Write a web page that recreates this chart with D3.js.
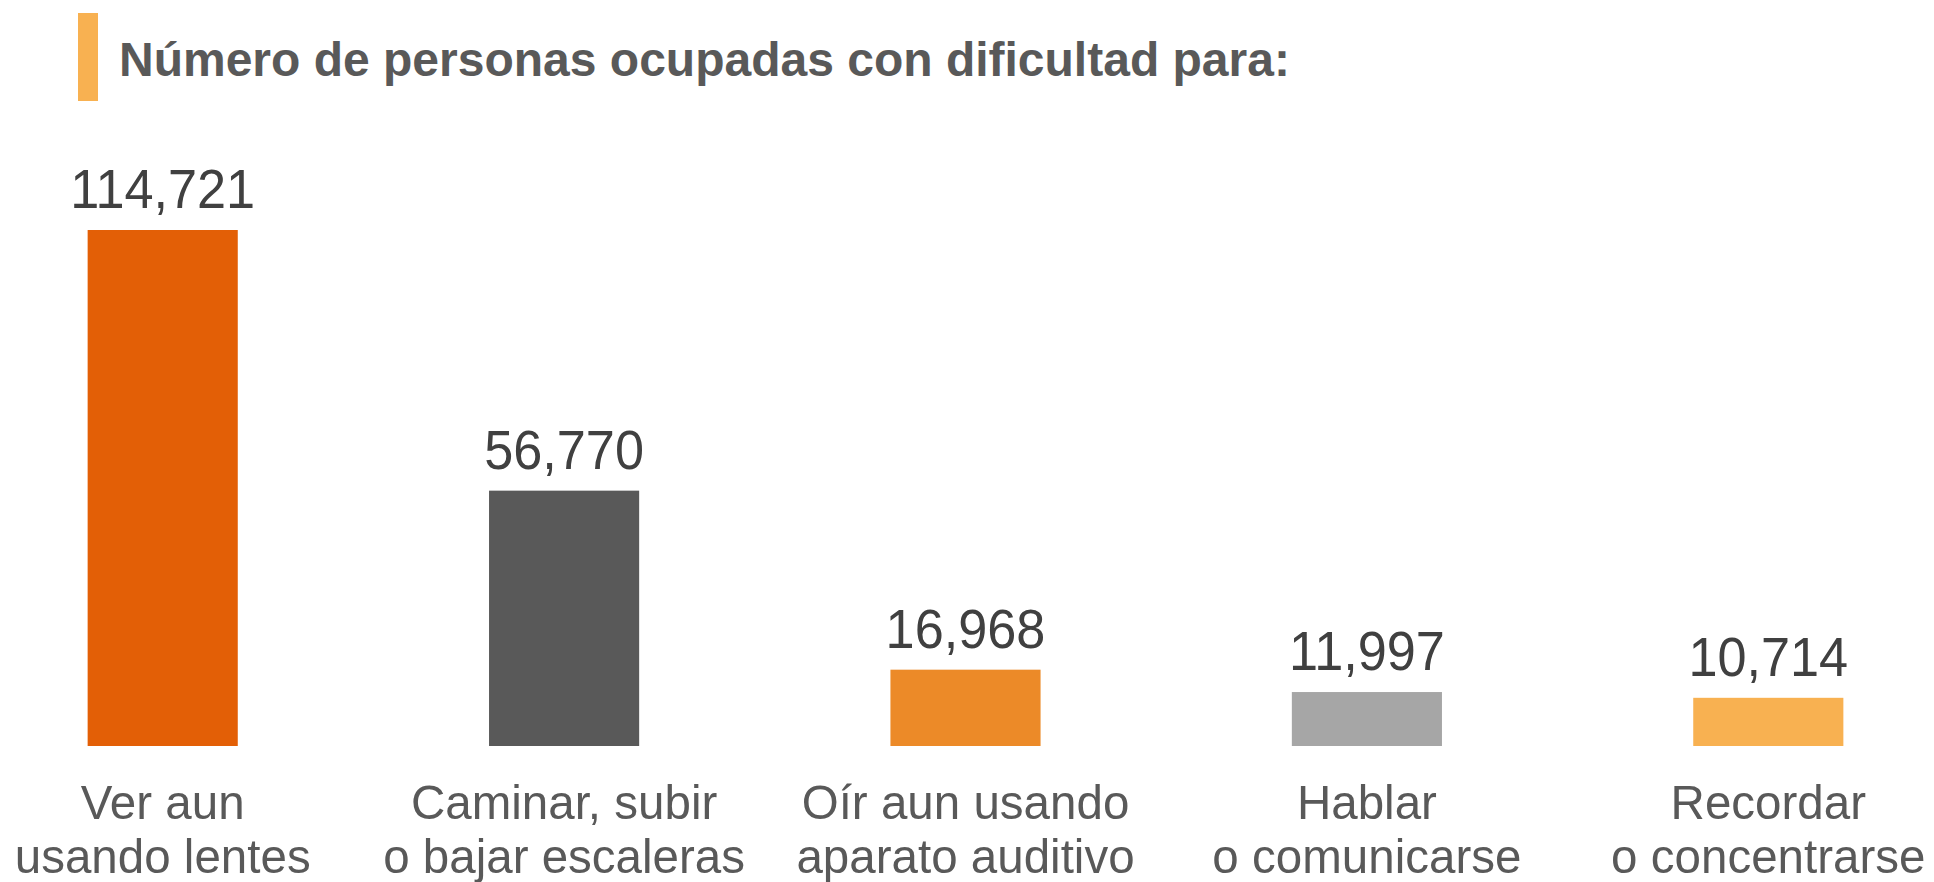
<!DOCTYPE html>
<html>
<head>
<meta charset="utf-8">
<script src="https://cdn.jsdelivr.net/npm/d3@7"></script>
<style>
  html, body { margin: 0; padding: 0; background: #ffffff; }
  svg { display: block; }
</style>
</head>
<body>
<svg id="chart" width="1934" height="882"></svg>
<script>
const titleText = "Número de personas ocupadas con dificultad para:";
const categories = ["Ver aun usando lentes", "Caminar, subir o bajar escaleras", "Oír aun usando aparato auditivo", "Hablar o comunicarse", "Recordar o concentrarse"];
const labelLines = [
  ["Ver aun", "usando lentes"],
  ["Caminar, subir", "o bajar escaleras"],
  ["Oír aun usando", "aparato auditivo"],
  ["Hablar", "o comunicarse"],
  ["Recordar", "o concentrarse"]
];
const values = [114721, 56770, 16968, 11997, 10714];
const colors = ["#E35F06", "#595959", "#EC8A28", "#A6A6A6", "#F8B151"];

const svg = d3.select("#chart");
const baseY = 746;
const topY = 230;

const x = d3.scaleBand()
  .domain(categories)
  .range([-38, 1969])
  .paddingInner(0.626)
  .paddingOuter(0.313);

const y = d3.scaleLinear()
  .domain([0, values[0]])
  .range([baseY, topY]);

const fmt = d3.format(",");

// Title accent bar and title
svg.append("rect")
  .attr("x", 78).attr("y", 13)
  .attr("width", 20).attr("height", 88)
  .attr("fill", "#F8B151");

svg.append("text")
  .attr("x", 119).attr("y", 76)
  .attr("font-family", "Liberation Sans, Arial, sans-serif")
  .attr("font-weight", "bold")
  .attr("font-size", 48)
  .attr("fill", "#595959")
  .text(titleText);

const data = categories.map((c, i) => ({ c, v: values[i], color: colors[i], lines: labelLines[i] }));

svg.selectAll("rect.bar")
  .data(data)
  .join("rect")
  .attr("class", "bar")
  .attr("x", d => x(d.c))
  .attr("width", x.bandwidth())
  .attr("y", d => y(d.v))
  .attr("height", d => baseY - y(d.v))
  .attr("fill", d => d.color);

// value labels
svg.selectAll("text.val")
  .data(data)
  .join("text")
  .attr("class", "val")
  .attr("text-anchor", "middle")
  .attr("font-family", "Liberation Sans, Arial, sans-serif")
  .attr("font-size", 55)
  .attr("fill", "#404040")
  .attr("transform", d => `translate(${x(d.c) + x.bandwidth() / 2},${y(d.v) - 22}) scale(0.95,1)`)
  .text(d => fmt(d.v));

// category labels
const cat = svg.selectAll("g.cat")
  .data(data)
  .join("g")
  .attr("class", "cat")
  .attr("transform", d => `translate(${x(d.c) + x.bandwidth() / 2},0)`);

cat.each(function(d) {
  const g = d3.select(this);
  d.lines.forEach((ln, j) => {
    g.append("text")
      .attr("text-anchor", "middle")
      .attr("font-family", "Liberation Sans, Arial, sans-serif")
      .attr("font-size", 49)
      .attr("fill", "#595959")
      .attr("transform", `translate(0,${819 + j * 54}) scale(0.97,1)`)
      .text(ln);
  });
});
</script>
</body>
</html>
